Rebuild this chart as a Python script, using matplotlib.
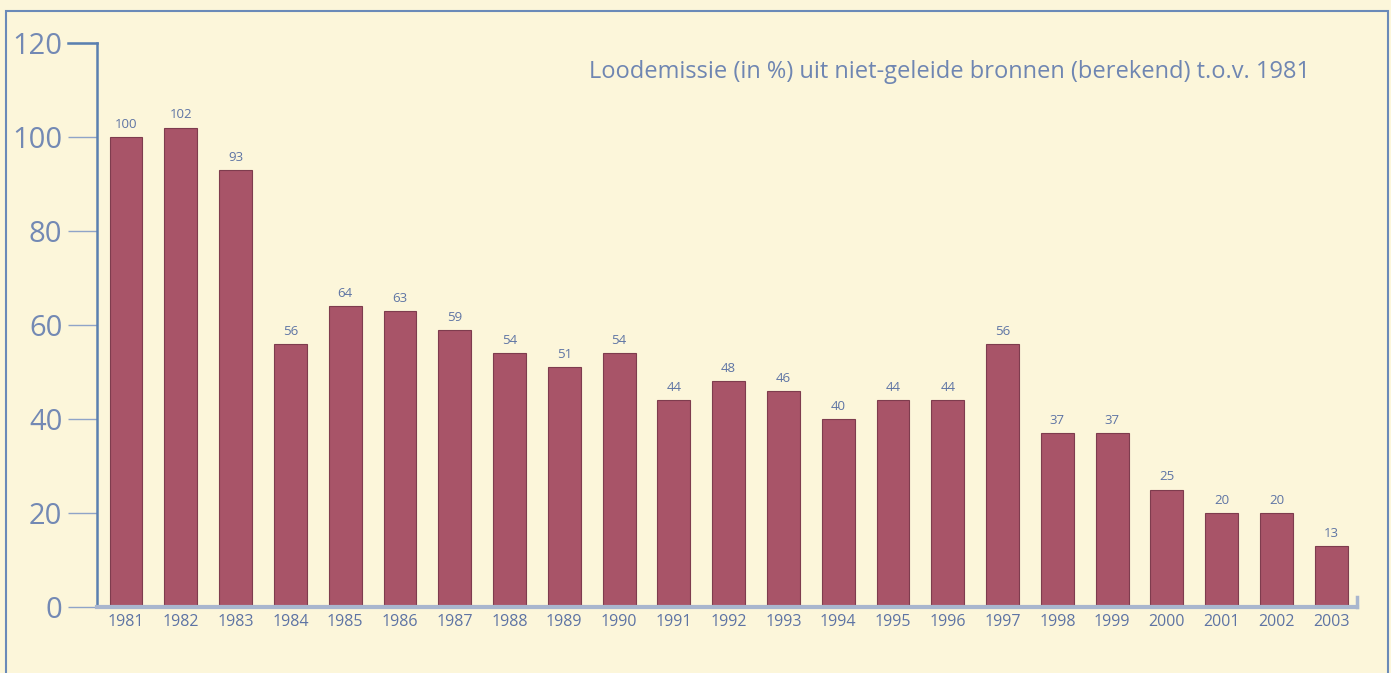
import matplotlib
matplotlib.use("Agg")
import matplotlib.pyplot as plt
from matplotlib.patches import Rectangle
from matplotlib.lines import Line2D

years = ["1981", "1982", "1983", "1984", "1985", "1986", "1987", "1988", "1989", "1990",
         "1991", "1992", "1993", "1994", "1995", "1996", "1997", "1998", "1999", "2000",
         "2001", "2002", "2003"]
values = [100, 102, 93, 56, 64, 63, 59, 54, 51, 54, 44, 48, 46, 40, 44, 44, 56, 37, 37,
          25, 20, 20, 13]
yticks = [0, 20, 40, 60, 80, 100, 120]
title = "Loodemissie (in %) uit niet-geleide bronnen (berekend) t.o.v. 1981"

bg = "#FCF6DA"
bar_color = "#A85468"
text_color = "#7389B4"
axis_blue = "#5A80B0"
fam = ['Open Sans', 'DejaVu Sans']

fig = plt.figure(figsize=(13.91, 6.73), dpi=100, facecolor=bg)
plt.rcParams['font.family'] = fam

# outer frame
fig.patches.append(Rectangle((6 / 1391, -0.05), (1388 - 6) / 1391, 1 - 11 / 673 + 0.05,
                             transform=fig.transFigure, fill=False,
                             edgecolor="#6A8AB8", linewidth=1.5))

ax = fig.add_axes([97 / 1391, 66 / 673, (1357 - 97) / 1391, (607 - 43) / 673])
ax.set_facecolor(bg)
x = list(range(len(years)))
ax.bar(x, values, width=0.6, color=bar_color, edgecolor="#7E3C4E", linewidth=0.8, zorder=2)
ax.set_xlim(-0.53, len(years) - 0.53)
ax.set_ylim(0, 120)

for xi, v in zip(x, values):
    ax.text(xi, v + 1.3, str(v), ha="center", va="bottom", fontsize=9.5,
            color="#5E74A4", family=fam)

ax.set_yticks(yticks)
ax.set_yticklabels([str(t) for t in yticks], fontsize=21, color=text_color)
ax.set_xticks(x)
ax.set_xticklabels(years, fontsize=11.5, color="#5E74A4")
ax.tick_params(axis="y", length=21, width=1.0, color="#8FA4C8", pad=4)
ax.tick_params(axis="x", length=0, pad=5)

for s in ["top", "right"]:
    ax.spines[s].set_visible(False)
ax.spines["left"].set_color(axis_blue)
ax.spines["left"].set_linewidth(1.8)
ax.spines["bottom"].set_color("#A9B6CE")
ax.spines["bottom"].set_linewidth(3)

# top tick at 120 darker
ax.add_line(Line2D([-0.53 - 29 / 54.8, -0.53], [120, 120], color=axis_blue,
                   linewidth=1.8, clip_on=False, zorder=3))
# small upturn at right end of x-axis
ax.add_line(Line2D([1, 1], [0, 10 / 564], transform=ax.transAxes, color="#A9B6CE",
                   linewidth=2.5, clip_on=False))

fig.text(1310 / 1391, 1 - 72 / 673, title, ha="right", va="center", fontsize=17,
         color="#6F86B2")

fig.savefig("out.png", dpi=100, facecolor=bg)
